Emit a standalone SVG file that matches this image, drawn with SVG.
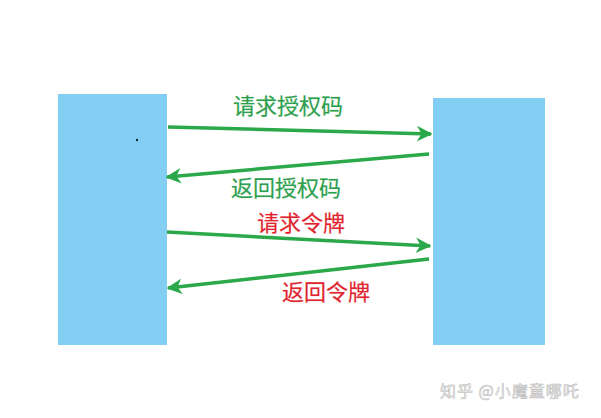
<svg xmlns="http://www.w3.org/2000/svg" width="601" height="418" viewBox="0 0 601 418">
<defs>
<style>
.box{fill:#83cff4;}
.conn{stroke:#2aa84a;stroke-width:3.5;fill:none;marker-end:url(#ah);}
.lbl{font-family:"Noto Sans CJK SC","Noto Sans",sans-serif;font-size:22px;}
.g{fill:#2e9e4e;stroke:#bfe8c8;stroke-width:0.6;paint-order:stroke;}
.r{fill:#e0242e;stroke:#f8c8cc;stroke-width:0.6;paint-order:stroke;}
.wm{font-family:"Noto Sans CJK SC","Noto Sans",sans-serif;font-size:16px;letter-spacing:1px;fill:#eeeeee;stroke:#b8b8b8;stroke-width:0.5;}
</style>
<marker id="ah" viewBox="0 0 10 10" refX="9" refY="5" markerWidth="4.5" markerHeight="4.5" orient="auto" markerUnits="strokeWidth">
<path d="M0,0 L10,5 L0,10 L3,5 Z" fill="#2aa84a"/>
</marker>
</defs>
<rect width="601" height="418" fill="#ffffff"/>
<g id="client">
<rect class="box" x="58" y="94" width="109" height="251"/>
<circle cx="137" cy="140" r="1.2" fill="#1a2a3a"/>
</g>
<g id="server">
<rect class="box" x="433" y="98" width="112" height="247"/>
</g>
<g id="connectors">
<line class="conn" x1="168" y1="127" x2="431" y2="134"/>
<line class="conn" x1="429" y1="154" x2="167" y2="177"/>
<line class="conn" x1="167" y1="232" x2="430" y2="246"/>
<line class="conn" x1="429" y1="259" x2="168" y2="288"/>
</g>
<g id="labels">
<text class="lbl g" x="233" y="114">请求授权码</text>
<text class="lbl g" x="231" y="196">返回授权码</text>
<text class="lbl r" x="257" y="231">请求令牌</text>
<text class="lbl r" x="282" y="300">返回令牌</text>
</g>
<g id="watermark">
<text class="wm" x="440" y="397">知乎 @小魔童哪吒</text>
</g>
</svg>
